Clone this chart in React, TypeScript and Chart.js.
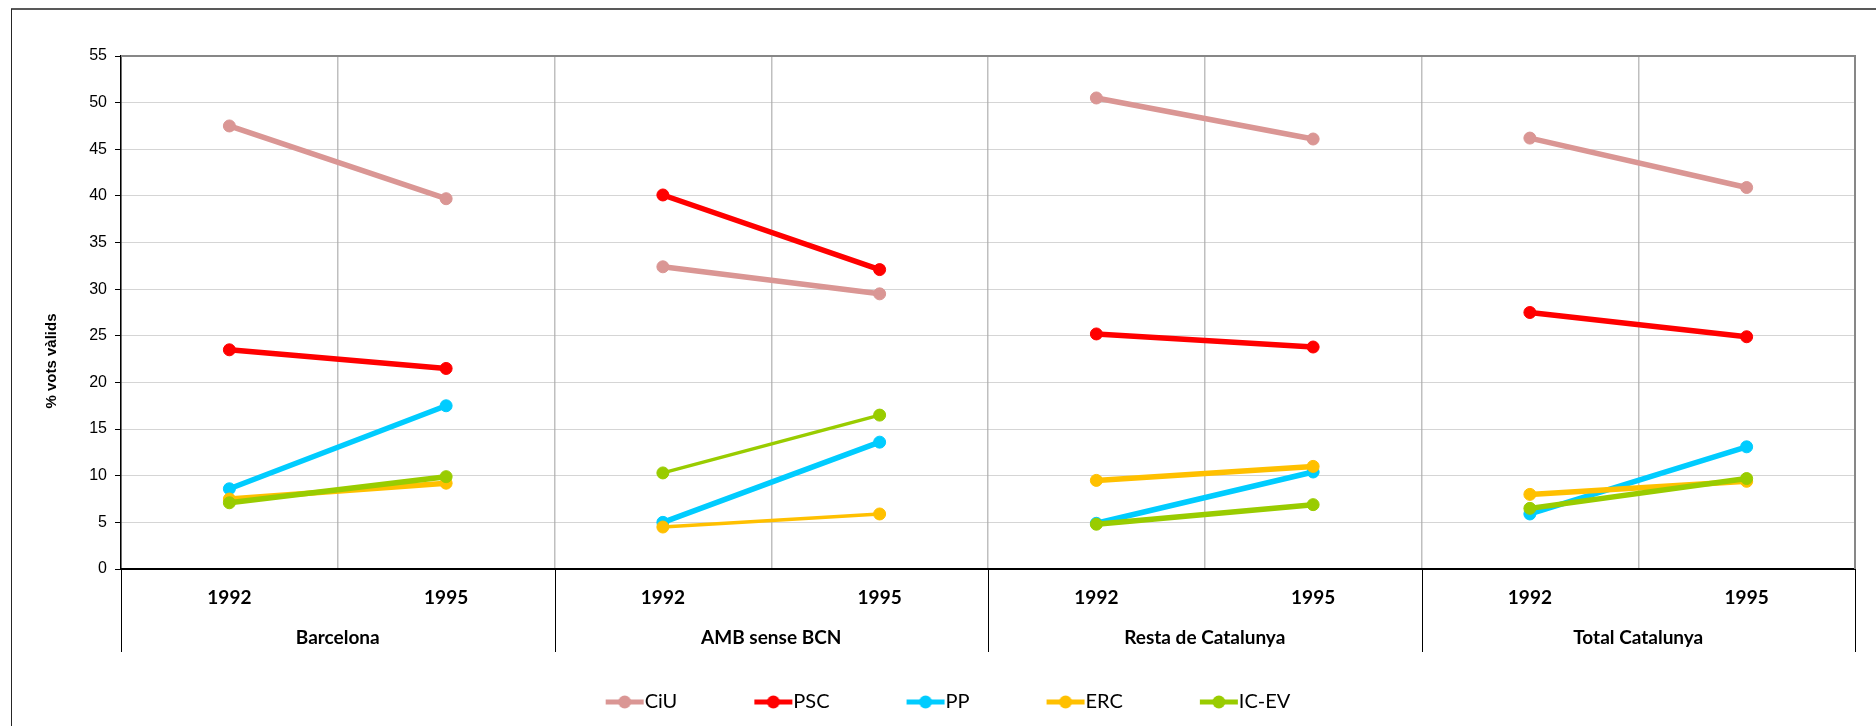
import React, { useEffect, useRef } from 'react';
import { Chart, registerables } from 'chart.js';

Chart.register(...registerables);

// ---- Data ----
const categories = ['1992', '1995', '1992', '1995', '1992', '1995', '1992', '1995'];
const regions = ['Barcelona', 'AMB sense BCN', 'Resta de Catalunya', 'Total Catalunya'];
const seriesNames = ['CiU', 'PSC', 'PP', 'ERC', 'IC-EV'];
const ciu = [47.5, 39.7, 32.4, 29.5, 50.5, 46.1, 46.2, 40.9];
const psc = [23.5, 21.5, 40.1, 32.1, 25.2, 23.8, 27.5, 24.9];
const pp = [8.6, 17.5, 5.0, 13.6, 4.9, 10.4, 5.9, 13.1];
const erc = [7.5, 9.2, 4.5, 5.9, 9.5, 11.0, 8.0, 9.4];
const icev = [7.1, 9.9, 10.3, 16.5, 4.8, 6.9, 6.5, 9.7];
const seriesValues = [ciu, psc, pp, erc, icev];
const yMin = 0;
const yMax = 55;
const yStep = 5;
const yTitle = '% vots vàlids';

// ---- Styles ----
const COLORS = ['#DA9694', '#FF0000', '#00CCFF', '#FFC000', '#99CC00'];
const THIN_PANELS: Record<string, number[]> = { ERC: [1], 'IC-EV': [1] };
const LINE_W = 5.5;
const THIN_W = 3.5;
const CAL = "Lato, 'Open Sans', sans-serif";
const ARIAL = "'Liberation Sans', Arial, sans-serif";

function legendImage(color: string): HTMLCanvasElement {
  const c = document.createElement('canvas');
  c.width = 50;
  c.height = 16;
  const g = c.getContext('2d')!;
  g.strokeStyle = color;
  g.lineWidth = 5;
  g.beginPath();
  g.moveTo(11, 8);
  g.lineTo(49, 8);
  g.stroke();
  g.fillStyle = color;
  g.beginPath();
  g.arc(30, 8, 6.5, 0, Math.PI * 2);
  g.fill();
  return c;
}

const decorPlugin = {
  id: 'decor',
  beforeDraw(chart: any) {
    const { ctx, width, height } = chart;
    ctx.save();
    ctx.fillStyle = '#ffffff';
    ctx.fillRect(0, 0, width, height);
    ctx.strokeStyle = '#595959';
    ctx.lineWidth = 2;
    ctx.beginPath();
    ctx.moveTo(11, 9);
    ctx.lineTo(width + 10, 9);
    ctx.stroke();
    ctx.strokeStyle = '#262626';
    ctx.lineWidth = 1;
    ctx.beginPath();
    ctx.moveTo(11.5, 9);
    ctx.lineTo(11.5, height + 10);
    ctx.stroke();
    ctx.restore();
  },
  beforeDatasetsDraw(chart: any) {
    const { ctx, chartArea: a } = chart;
    ctx.save();
    ctx.strokeStyle = '#878787';
    ctx.lineWidth = 2;
    ctx.beginPath();
    ctx.moveTo(a.left, a.top);
    ctx.lineTo(a.right, a.top);
    ctx.lineTo(a.right, a.bottom);
    ctx.stroke();
    ctx.restore();
  },
  afterDraw(chart: any) {
    const { ctx, chartArea: a } = chart;
    const x = chart.scales.x;
    const px = (i: number) => x.getPixelForValue(i);
    const bounds: number[] = [a.left];
    for (let g = 0; g < regions.length - 1; g++) bounds.push((px(2 * g + 1) + px(2 * g + 2)) / 2);
    bounds.push(a.right);
    ctx.save();
    ctx.strokeStyle = '#000';
    ctx.lineWidth = 1;
    bounds.forEach((b) => {
      const bx = Math.round(b) + 0.5;
      ctx.beginPath();
      ctx.moveTo(bx, a.bottom);
      ctx.lineTo(bx, a.bottom + 83);
      ctx.stroke();
    });
    ctx.fillStyle = '#000';
    ctx.textAlign = 'center';
    ctx.textBaseline = 'middle';
    ctx.font = `bold 19px ${CAL}`;
    regions.forEach((r, g) => {
      ctx.fillText(r, (px(2 * g) + px(2 * g + 1)) / 2, a.bottom + 69);
    });
    ctx.translate(52, 361);
    ctx.rotate(-Math.PI / 2);
    ctx.font = `bold 15px ${ARIAL}`;
    ctx.fillText(yTitle, 0, 0);
    ctx.restore();
  },
};

export default function App() {
  const ref = useRef<HTMLCanvasElement>(null);

  useEffect(() => {
    const canvas = ref.current!;
    const images = COLORS.map(legendImage);
    const datasets = seriesNames.map((name, i) => ({
      label: name,
      data: seriesValues[i],
      borderColor: COLORS[i],
      backgroundColor: COLORS[i],
      pointBackgroundColor: COLORS[i],
      pointBorderColor: COLORS[i],
      pointRadius: 6,
      pointBorderWidth: 1,
      borderWidth: LINE_W,
      borderCapStyle: 'round',
      tension: 0,
      order: seriesNames.length - i,
      segment: {
        borderColor: (c: any) => (c.p0DataIndex % 2 === 1 ? 'rgba(0,0,0,0)' : COLORS[i]),
        borderWidth: (c: any) =>
          (THIN_PANELS[name] || []).includes(Math.floor(c.p0DataIndex / 2)) ? THIN_W : LINE_W,
      },
    }));

    const chart = new Chart(canvas, {
      type: 'line',
      data: { labels: categories, datasets: datasets as any },
      options: {
        responsive: false,
        animation: false,
        events: [],
        layout: { padding: { left: 40, right: 21, top: 56, bottom: 4 } },
        plugins: {
          tooltip: { enabled: false },
          legend: {
            position: 'bottom',
            labels: {
              usePointStyle: true,
              pointStyleWidth: 30,
              padding: 76,
              color: '#000',
              font: { family: CAL, size: 20 },
              generateLabels: (ch: any) =>
                ch.data.datasets.map((ds: any, i: number) => ({
                  text: ds.label,
                  pointStyle: images[i],
                  fillStyle: COLORS[i],
                  strokeStyle: COLORS[i],
                  lineWidth: 0,
                  hidden: false,
                  datasetIndex: i,
                  fontColor: '#000',
                })),
            },
          },
        },
        scales: {
          x: {
            type: 'category',
            offset: true,
            grid: { offset: true, color: '#BFBFBF', lineWidth: 1.5, drawTicks: false },
            border: { color: '#000', width: 2 },
            ticks: {
              color: '#000',
              padding: 17,
              maxRotation: 0,
              autoSkip: false,
              font: { family: CAL, size: 19, weight: 'bold' },
            },
            afterFit: (s: any) => {
              s.height = 47;
            },
          },
          y: {
            min: yMin,
            max: yMax,
            ticks: { stepSize: yStep, color: '#000', padding: 8, font: { family: ARIAL, size: 16 } },
            grid: { color: '#ABABAB', lineWidth: 1, tickLength: 6, tickColor: '#000', tickWidth: 1 },
            border: { color: '#000', width: 1.5, dash: [1, 1] },
            afterFit: (s: any) => {
              s.width = 81;
            },
          },
        },
      },
      plugins: [decorPlugin],
    } as any);

    return () => chart.destroy();
  }, []);

  return (
    <div style={{ position: 'fixed', left: 0, top: 0, width: 1876, height: 726, background: '#fff' }}>
      <canvas ref={ref} width={1876} height={726} style={{ display: 'block' }} />
    </div>
  );
}
